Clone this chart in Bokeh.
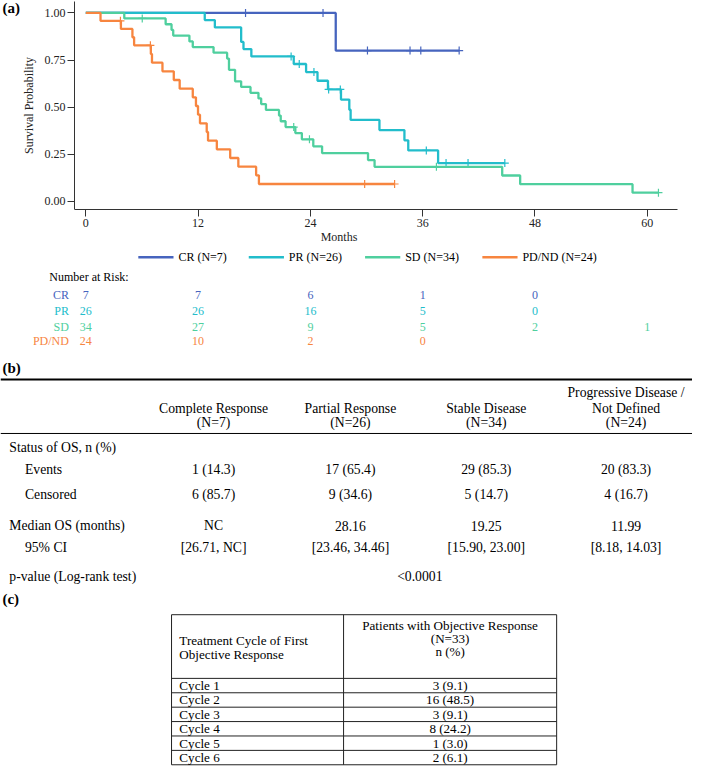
import numpy as np
from bokeh.plotting import figure
from bokeh.models import Range1d, FixedTicker, PrintfTickFormatter
from bokeh.layouts import column
from bokeh.core.properties import value
from bokeh.embed import file_html
from bokeh.resources import INLINE

FONT = "Liberation Serif"

# ---------------- data ----------------
groups = ["CR", "PR", "SD", "PD/ND"]
legend_labels = ["CR (N=7)", "PR (N=26)", "SD (N=34)", "PD/ND (N=24)"]
colors = ["#4664BE", "#22BDCB", "#4FCF9E", "#F7853F"]

cr_time = [0, 26.71]
cr_surv = [1.0, 0.80]
cr_cens = [17.07, 25.35, 30.1, 34.65, 35.8, 39.9]

pr_time = [0, 12.71, 13.79, 16.6, 16.85, 17.69, 22.22, 23.54, 24.76, 25.88, 27.27,
           28.16, 28.3, 31.38, 34.05, 34.46, 37.65]
pr_surv = [1.0, 0.962, 0.923, 0.846, 0.808, 0.769, 0.729, 0.686, 0.640, 0.594, 0.540,
           0.486, 0.432, 0.378, 0.324, 0.270, 0.203]
pr_cens = [21.94, 22.81, 24.38, 25.95, 27.2, 36.39, 38.5, 40.85, 44.78]

sd_time = [0, 4.11, 8.53, 9.16, 9.34, 11.07, 11.43, 13.65, 15.1, 15.3, 15.95, 16.6,
           17.6, 18.45, 18.74, 19.25, 20.65, 20.83, 21.35, 22.39, 23.09, 24.31, 25.25,
           30.16, 30.86, 44.5, 46.42, 58.43]
sd_surv = [1.0, 0.971, 0.940, 0.910, 0.880, 0.849, 0.819, 0.789, 0.758, 0.698, 0.637,
           0.607, 0.576, 0.546, 0.516, 0.485, 0.455, 0.425, 0.394, 0.362, 0.329, 0.292,
           0.256, 0.219, 0.183, 0.137, 0.091, 0.046]
sd_cens = [6.03, 22.22, 23.9, 37.47, 61.2]

pd_time = [0, 1.57, 3.75, 4.98, 5.16, 6.95, 7.07, 8.19, 9.40, 10.03, 11.43, 11.77,
           11.99, 12.2, 12.92, 13.06, 14.0, 15.43, 16.3, 18.2, 18.5]
pd_surv = [1.0, 0.958, 0.915, 0.871, 0.828, 0.782, 0.736, 0.690, 0.644, 0.598, 0.552,
           0.506, 0.460, 0.414, 0.368, 0.322, 0.276, 0.230, 0.184, 0.138, 0.092]
pd_cens = [3.7, 6.9, 29.8, 33.0]

x_ticks = [0, 12, 24, 36, 48, 60]
y_ticks = [0, 0.25, 0.5, 0.75, 1.0]

risk_times = [0, 12, 24, 36, 48, 60]
risk_cr = [7, 7, 6, 1, 0]
risk_pr = [26, 26, 16, 5, 0]
risk_sd = [34, 27, 9, 5, 2, 1]
risk_pd = [24, 10, 2, 0]

b_head_1 = ["", "", "", "Progressive Disease /"]
b_head_2 = ["Complete Response", "Partial Response", "Stable Disease", "Not Defined"]
b_head_3 = ["(N=7)", "(N=26)", "(N=34)", "(N=24)"]
b_events = ["1 (14.3)", "17 (65.4)", "29 (85.3)", "20 (83.3)"]
b_censored = ["6 (85.7)", "9 (34.6)", "5 (14.7)", "4 (16.7)"]
b_median = ["NC", "28.16", "19.25", "11.99"]
b_ci = ["[26.71, NC]", "[23.46, 34.46]", "[15.90, 23.00]", "[8.18, 14.03]"]
b_pvalue = "<0.0001"

c_cycles = ["Cycle 1", "Cycle 2", "Cycle 3", "Cycle 4", "Cycle 5", "Cycle 6"]
c_values = ["3 (9.1)", "16 (48.5)", "3 (9.1)", "8 (24.2)", "1 (3.0)", "2 (6.1)"]

# ---------------- layout constants (reference pixel space) ----------------
W, H = 692, 768
REF_W, REF_H = 708, 784
SX, SY = W / REF_W, H / REF_H

X0_REF, PX_PER_MONTH = 87.3, 9.573      # month 0 position, px per month
Y0_REF, PX_PER_UNIT = 205.0, 192.3      # survival 0 position, px per unit

H1 = 247
AXIS_X = 74          # y-axis position (figure px)
FR, FB = 677, 209    # frame right / bottom (figure px)

def month_at(xpx):
    return (xpx / SX - X0_REF) / PX_PER_MONTH

def surv_at(ypx):
    return (Y0_REF - ypx / SY) / PX_PER_UNIT

TXT = "12px"

# ---------------- figure (a) ----------------
p1 = figure(width=W, height=H1, output_backend="svg", toolbar_location=None,
            x_range=Range1d(month_at(0), month_at(FR)),
            y_range=Range1d(surv_at(FB), surv_at(0)), title=None,
            min_border_left=0, min_border_right=W - FR, min_border_top=0,
            min_border_bottom=H1 - FB)
p1.frame_align = False
p1.outline_line_color = None
p1.grid.visible = False
p1.background_fill_color = "white"

p1.yaxis.fixed_location = month_at(AXIS_X)
p1.xaxis.bounds = (month_at(AXIS_X), month_at(FR))
p1.yaxis.bounds = (surv_at(FB), surv_at(1))
p1.xaxis.ticker = FixedTicker(ticks=x_ticks)
p1.yaxis.ticker = FixedTicker(ticks=y_ticks)
p1.yaxis.formatter = PrintfTickFormatter(format="%.2f")
p1.xaxis.axis_label = "Months"
p1.yaxis.axis_label = "Survival Probability"
for ax in (p1.xaxis[0], p1.yaxis[0]):
    ax.major_label_text_font = FONT
    ax.major_label_text_font_size = TXT
    ax.major_label_text_color = "#222222"
    ax.axis_label_text_font = FONT
    ax.axis_label_text_font_size = TXT
    ax.axis_label_text_font_style = "normal"
    ax.axis_label_text_color = "#222222"
    ax.minor_tick_line_color = None
    ax.major_tick_in = 0
    ax.major_tick_out = 7
    ax.axis_line_color = "#333333"
    ax.major_tick_line_color = "#333333"
p1.xaxis.major_label_standoff = 2
p1.xaxis.axis_label_standoff = 0
p1.yaxis.major_label_standoff = 2
p1.yaxis.axis_label_standoff = 6

series = [(cr_time, cr_surv, cr_cens), (pr_time, pr_surv, pr_cens),
          (sd_time, sd_surv, sd_cens), (pd_time, pd_surv, pd_cens)]
for (t, s, cens), col in zip(series, colors):
    end = max(cens)
    xs = list(t) + [end]
    ys = list(s) + [s[-1]]
    p1.step(xs, ys, mode="after", line_width=2.3, line_color=col)
    idx = np.searchsorted(np.array(t), np.array(cens), side="right") - 1
    cy = [s[i] for i in idx]
    p1.scatter(cens, cy, marker="cross", size=8, line_width=1.2, line_color=col)

# panel tag "(a)"
p1.text(x=[month_at(2 * SX)], y=[surv_at(8 * SY)], text=["(a)"], text_font=value(FONT),
        text_font_style="bold", text_font_size="15px", text_baseline="middle",
        text_align="left", text_color="black")

# ---------------- figure (rest) ----------------
H2 = H - H1
top_ref = REF_H - H2 / SY
p2 = figure(width=W, height=H2, output_backend="svg", toolbar_location=None,
            x_range=Range1d(0, REF_W), y_range=Range1d(REF_H, top_ref), title=None,
            min_border=0, min_border_left=0, min_border_right=0, min_border_top=0,
            min_border_bottom=0, x_axis_location=None, y_axis_location=None)
p2.frame_align = False
p2.outline_line_color = None
p2.grid.visible = False
# month scale aligned with panel (a)
p2.extra_x_ranges = {"months": Range1d(month_at(0), month_at(W))}

def txt(x, y, t, size=TXT, align="left", color="black", style="normal", xr="default"):
    p2.text(x=x, y=y, text=t, text_font=value(FONT), text_font_size=size,
            text_align=align, text_baseline="middle", text_color=color,
            text_font_style=style, x_range_name=xr)

# legend
LEG_Y = 262
leg_x0 = [141, 254, 373, 493]
for i, (lab, col) in enumerate(zip(legend_labels, colors)):
    p2.segment(x0=[leg_x0[i]], x1=[leg_x0[i] + 36], y0=[LEG_Y], y1=[LEG_Y],
               line_width=2.5, line_color=col)
    txt([leg_x0[i] + 41], [LEG_Y], [lab])

# number at risk
txt([50], [282], ["Number at Risk:"])
risk_rows_y = [301, 317, 333, 348]
for g, counts, col, ry in zip(groups, [risk_cr, risk_pr, risk_sd, risk_pd], colors, risk_rows_y):
    txt([70], [ry], [g], align="right", color=col)
    txt(risk_times[:len(counts)], [ry] * len(counts), [str(c) for c in counts],
        align="center", color=col, xr="months")

# table (b)
BS = "13.7px"
txt([2], [375], ["(b)"], size="15px", style="bold")
p2.segment(x0=[0], x1=[REF_W], y0=[387], y1=[387], line_width=2, line_color="black")
p2.segment(x0=[0], x1=[REF_W], y0=[442], y1=[442], line_width=1, line_color="black")
col_x = [218, 358, 497, 640]
for yy, row in zip([400, 416, 431], [b_head_1, b_head_2, b_head_3]):
    txt(col_x, [yy] * 4, row, size=BS, align="center")
rows_y = [456, 479, 504, 536, 558, 588]
txt([9], [rows_y[0]], ["Status of OS, n (%)"], size=BS)
txt([25], [rows_y[1]], ["Events"], size=BS)
txt(col_x, [rows_y[1]] * 4, b_events, size=BS, align="center")
txt([25], [rows_y[2]], ["Censored"], size=BS)
txt(col_x, [rows_y[2]] * 4, b_censored, size=BS, align="center")
txt([9], [rows_y[3]], ["Median OS (months)"], size=BS)
txt(col_x, [rows_y[3]] * 4, b_median, size=BS, align="center")
txt([25], [rows_y[4]], ["95% CI"], size=BS)
txt(col_x, [rows_y[4]] * 4, b_ci, size=BS, align="center")
txt([9], [rows_y[5]], ["p-value (Log-rank test)"], size=BS)
txt([(col_x[0] + col_x[-1]) / 2], [rows_y[5]], [b_pvalue], size=BS, align="center")

# table (c)
CS = "13.1px"
txt([2], [611], ["(c)"], size="15px", style="bold")
c_left, c_mid, c_right = 175, 351, 569
c_top, c_hdr = 627, 692
row_lines = [c_hdr + 14.7 * i for i in range(7)]
hy = [c_top] + row_lines
p2.segment(x0=[c_left] * len(hy), x1=[c_right] * len(hy), y0=hy, y1=hy,
           line_width=1, line_color="#222222")
p2.segment(x0=[c_left, c_mid, c_right], x1=[c_left, c_mid, c_right],
           y0=[c_top] * 3, y1=[row_lines[-1]] * 3, line_width=1, line_color="#222222")
txt([183, 183], [653, 668], ["Treatment Cycle of First", "Objective Response"], size=CS)
cx = (c_mid + c_right) / 2
txt([cx] * 3, [638, 651, 665], ["Patients with Objective Response", "(N=33)", "n (%)"],
    size=CS, align="center")
ry = [r + 7.35 for r in row_lines[:-1]]
txt([183] * 6, ry, c_cycles, size=CS)
txt([cx] * 6, ry, c_values, size=CS, align="center")

layout = column(p1, p2, spacing=0)
open("out.html", "w").write(file_html(layout, INLINE))
